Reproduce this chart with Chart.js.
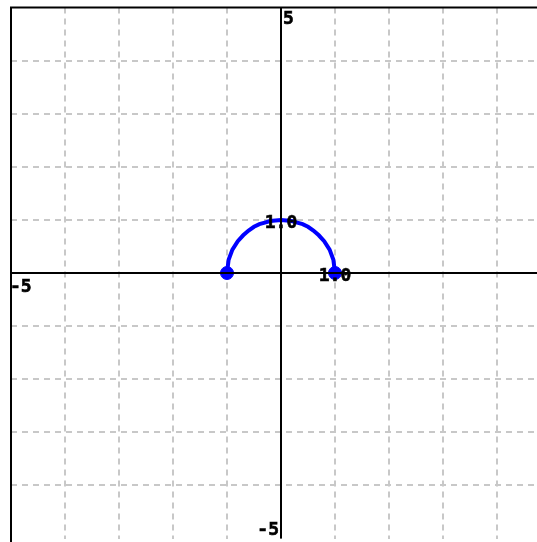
<!DOCTYPE html>
<html>
<head>
<script src="https://cdn.jsdelivr.net/npm/chart.js"></script>
<style>
  html, body { margin: 0; padding: 0; background: #fff; overflow: hidden; }
  #c { position: absolute; left: 0; top: 0; }
</style>
</head>
<body>
<canvas id="c" width="562" height="546"></canvas>
<script>
// curve (upper half of the unit circle)
const curveX = [-1, -0.97, -0.9, -0.8, -0.7, -0.6, -0.5, -0.4, -0.3, -0.2, -0.1, 0, 0.1, 0.2, 0.3, 0.4, 0.5, 0.6, 0.7, 0.8, 0.9, 0.97, 1];
const curveY = [0, 0.25, 0.44, 0.6, 0.71, 0.8, 0.87, 0.92, 0.95, 0.98, 0.99, 1, 0.99, 0.98, 0.95, 0.92, 0.87, 0.8, 0.71, 0.6, 0.44, 0.25, 0];
const endX = [-1, 1];
const endY = [0, 0];
const axisLabels = [
  { x: 0, y: 5, text: '5', dx: 2, dy: 3, align: 'left', base: 'top' },
  { x: 0, y: -5, text: '-5', dx: -2, dy: 1, align: 'right', base: 'bottom' },
  { x: -5, y: 0, text: '-5', dx: -1, dy: 5, align: 'left', base: 'top' }
];
const valueLabels = [
  { x: 0, y: 1, text: '1.0' },
  { x: 1, y: 0, text: '1.0' }
];

const overlay = {
  id: 'overlay',
  afterDraw(chart) {
    const { ctx, scales: { x, y }, chartArea: a } = chart;
    ctx.save();
    ctx.strokeStyle = '#000';
    ctx.lineWidth = 2;
    ctx.beginPath();
    ctx.moveTo(a.left, y.getPixelForValue(0));
    ctx.lineTo(a.right, y.getPixelForValue(0));
    ctx.moveTo(x.getPixelForValue(0), a.top);
    ctx.lineTo(x.getPixelForValue(0), a.bottom);
    // frame: only top and left are inside the window
    ctx.moveTo(a.left, a.bottom + 5);
    ctx.lineTo(a.left, a.top);
    ctx.lineTo(a.right, a.top);
    ctx.stroke();
    ctx.fillStyle = '#000';
    ctx.lineWidth = 0.6;
    ctx.font = 'bold 18px "DejaVu Sans Mono"';
    axisLabels.forEach(l => {
      ctx.textAlign = l.align;
      ctx.textBaseline = l.base;
      const px = x.getPixelForValue(l.x) + l.dx, py = y.getPixelForValue(l.y) + l.dy;
      ctx.fillText(l.text, px, py);
      ctx.strokeText(l.text, px, py);
    });
    ctx.textAlign = 'center';
    ctx.textBaseline = 'middle';
    valueLabels.forEach(l => {
      const px = x.getPixelForValue(l.x), py = y.getPixelForValue(l.y) + 3;
      ctx.fillText(l.text, px, py);
      ctx.strokeText(l.text, px, py);
    });
    ctx.restore();
  }
};

const gridColor = c => (Math.abs(c.tick.value) === 5 ? 'rgba(0,0,0,0)' : '#c8c8c8');

new Chart(document.getElementById('c'), {
  type: 'scatter',
  data: {
    datasets: [
      {
        data: curveX.map((v, i) => ({ x: v, y: curveY[i] })),
        showLine: true,
        borderColor: '#0000ff',
        borderWidth: 4,
        pointRadius: 0,
        order: 2
      },
      {
        data: endX.map((v, i) => ({ x: v, y: endY[i] })),
        backgroundColor: '#0000ff',
        borderColor: '#0000ff',
        pointRadius: 6.5,
        order: 1
      }
    ]
  },
  options: {
    responsive: false,
    animation: false,
    layout: { padding: { left: 11, top: 6, right: 11, bottom: 6 } },
    plugins: { legend: { display: false }, tooltip: { enabled: false } },
    scales: {
      x: {
        type: 'linear', min: -5, max: 5,
        ticks: { display: false, stepSize: 1 },
        grid: { color: gridColor, lineWidth: 2, drawTicks: false },
        border: { display: false, dash: [6, 5] }
      },
      y: {
        type: 'linear', min: -5, max: 5,
        ticks: { display: false, stepSize: 1 },
        grid: { color: gridColor, lineWidth: 2, drawTicks: false },
        border: { display: false, dash: [6, 5] }
      }
    }
  },
  plugins: [overlay]
});
</script>
</body>
</html>
